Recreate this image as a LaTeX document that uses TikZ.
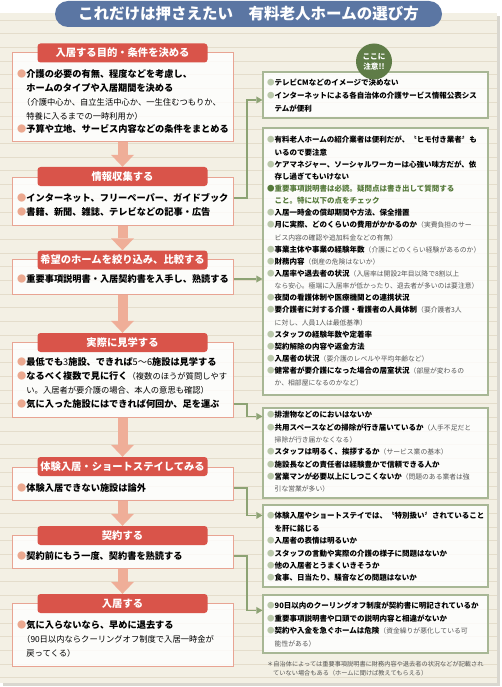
\documentclass[tikz,border=0pt]{standalone}
\usepackage{fontspec}
\setmainfont{Noto Sans CJK JP}
\usetikzlibrary{arrows.meta,calc}
\definecolor{hdrcol}{HTML}{D9544A}
\definecolor{lbord}{HTML}{E8A493}
\definecolor{larrow}{HTML}{EFAE98}
\definecolor{lbul}{HTML}{EBA88F}
\definecolor{rbord}{HTML}{A8B795}
\definecolor{rbul}{HTML}{BAC8AA}
\definecolor{conncol}{HTML}{8DA374}
\definecolor{gtext}{HTML}{55793A}
\definecolor{gcirc}{HTML}{5F7C47}
\definecolor{titlecol}{HTML}{5B76A3}
\definecolor{panelcol}{HTML}{F3F0E4}
\definecolor{rulecol}{HTML}{E4DDCB}
\definecolor{shadowcol}{HTML}{D9D7CF}
\definecolor{subgray}{HTML}{555555}
\newcommand\bulL{\textcolor{lbul}{●}}
\newcommand\bulR{\textcolor{rbul}{●}}
\newcommand\subL[1]{{\mdseries\fontsize{8.3}{10}\selectfont #1}}
\newcommand\subR[1]{{\mdseries\color{subgray}\fontsize{6.8}{8}\selectfont #1}}
\begin{document}
\begin{tikzpicture}[x=1pt,y=-1pt,
  ltxt/.style={anchor=west,inner sep=0pt,font=\bfseries\fontsize{9.2}{11}\selectfont,text height=8.1pt,text depth=1.1pt},
  rtxt/.style={anchor=west,inner sep=0pt,font=\bfseries\fontsize{7.5}{9}\selectfont,text height=6.6pt,text depth=0.9pt},
  ftxt/.style={anchor=west,inner sep=0pt,font=\fontsize{6.2}{7}\selectfont,text=subgray,text height=5.5pt,text depth=0.7pt},
  lbox/.style={draw=lbord,line width=1pt,fill=white,fill opacity=0.82,minimum width=221pt,inner sep=0pt},
  rbox/.style={draw=rbord,line width=1.2pt,fill=white,fill opacity=0.82,minimum width=225pt,inner sep=0pt},
  hdr/.style={fill=hdrcol,rounded corners=3pt,minimum width=170pt,minimum height=19pt,inner sep=0pt,text=white,font=\bfseries\fontsize{10.3}{12}\selectfont,text height=9pt,text depth=1.3pt},
  bigarr/.style={draw=larrow,line width=10pt,-{Triangle[width=23pt,length=12pt,line width=0pt]}},
  conn/.style={draw=conncol,line width=1.8pt,-{Triangle[width=7pt,length=6pt,line width=0pt]}}
]
\useasboundingbox (0,0) rectangle (501,687);
% panel
\fill[shadowcol] (3,16) rectangle (500,686);
\fill[panelcol] (0,13) rectangle (497,683);
\foreach \yy in {20,33.7,...,680} \draw[rulecol,line width=0.6pt] (0,\yy) -- (497,\yy);

% left frames
\node[lbox,minimum height=89pt] (b1) at (122.5,97.5) {};
\node[lbox,minimum height=48pt] (b2) at (122.5,201) {};
\node[lbox,minimum height=35pt] (b3) at (122.5,276.5) {};
\node[lbox,minimum height=75pt] (b4) at (122.5,379.5) {};
\node[lbox,minimum height=33pt] (b5) at (122.5,483.5) {};
\node[lbox,minimum height=33pt] (b6) at (122.5,551.5) {};
\node[lbox,minimum height=63pt] (b7) at (122.5,634.5) {};

% headers
\node[hdr] (h1) at (122.5,53) {入居する目的・条件を決める};
\node[hdr] (h2) at (122.5,176.5) {情報収集する};
\node[hdr] (h3) at (122.5,260) {希望のホームを絞り込み、比較する};
\node[hdr] (h4) at (122.5,342.5) {実際に見学する};
\node[hdr] (h5) at (122.5,466.5) {体験入居・ショートステイしてみる};
\node[hdr] (h6) at (122.5,535.5) {契約する};
\node[hdr] (h7) at (122.5,603.5) {入居する};

% big arrows
\draw[bigarr] (b1.south) -- (h2.north);
\draw[bigarr] (b2.south) -- (h3.north);
\draw[bigarr] (b3.south) -- (h4.north);
\draw[bigarr] (b4.south) -- (h5.north);
\draw[bigarr] (b5.south) -- (h6.north);
\draw[bigarr] (b6.south) -- (h7.north);

% left texts
\node[ltxt] (l1a) at (17,74) {\bulL 介護の必要の有無、程度などを考慮し、};
\node[ltxt] (l1b) at (26.2,88) {ホームのタイプや入居期間を決める};
\node[ltxt] (l1c) at (22,102) {\subL{（介護中心か、自立生活中心か、一生住むつもりか、}};
\node[ltxt] (l1d) at (26.2,116) {\subL{特養に入るまでの一時利用か）}};
\node[ltxt] (l1e) at (17,129.5) {\bulL 予算や立地、サービス内容などの条件をまとめる};
\node[ltxt] (l2a) at (17,198) {\bulL インターネット、フリーペーパー、ガイドブック};
\node[ltxt] (l2b) at (17,212) {\bulL 書籍、新聞、雑誌、テレビなどの記事・広告};
\node[ltxt] (l3a) at (17,279) {\bulL 重要事項説明書・入居契約書を入手し、熟読する};
\node[ltxt] (l4a) at (17,362) {\bulL 最低でも{\mdseries 3}施設、できれば{\mdseries 5～6}施設は見学する};
\node[ltxt] (l4b) at (17,376) {\bulL なるべく複数で見に行く\subL{（複数のほうが質問しやす}};
\node[ltxt] (l4c) at (26.2,390) {\subL{い。入居者が要介護の場合、本人の意思も確認）}};
\node[ltxt] (l4d) at (17,404) {\bulL 気に入った施設にはできれば何回か、足を運ぶ};
\node[ltxt] (l5a) at (17,488) {\bulL 体験入居できない施設は論外};
\node[ltxt] (l6a) at (17,556) {\bulL 契約前にもう一度、契約書を熟読する};
\node[ltxt] (l7a) at (17,625) {\bulL 気に入らないなら、早めに退去する};
\node[ltxt] (l7b) at (22,639) {\subL{（90日以内ならクーリングオフ制度で入居一時金が}};
\node[ltxt] (l7c) at (26.2,653) {\subL{戻ってくる）}};

% right frames
\node[rbox,minimum height=46pt] (r1) at (375.5,95) {};
\node[rbox,minimum height=267pt] (r2) at (375.5,261.5) {};
\node[rbox,minimum height=90pt] (r3) at (375.5,453) {};
\node[rbox,minimum height=82pt] (r4) at (375.5,546) {};
\node[rbox,minimum height=58pt] (r5) at (375.5,624) {};

% right texts
\node[rtxt] (r1a) at (267,83) {\bulR テレビCMなどのイメージで決めない};
\node[rtxt] (r1b) at (267,96) {\bulR インターネットによる各自治体の介護サービス情報公表シス};
\node[rtxt] (r1c) at (274.5,109) {テムが便利};

\node[rtxt] (r2a) at (267,140) {\bulR 有料老人ホームの紹介業者は便利だが、〝ヒモ付き業者〞も};
\node[rtxt] (r2b) at (274.5,152.2) {いるので要注意};
\node[rtxt] (r2c) at (267,164.3) {\bulR ケアマネジャー、ソーシャルワーカーは心強い味方だが、依};
\node[rtxt] (r2d) at (274.5,176.5) {存し過ぎてもいけない};
\node[rtxt,text=gtext] (r2e) at (267,188.6) {●重要事項説明書は必読。疑問点は書き出して質問する};
\node[rtxt,text=gtext] (r2f) at (274.5,200.8) {こと。特に以下の点をチェック};
\node[rtxt] (r2g) at (267,212.9) {\bulR 入居一時金の償却期間や方法、保全措置};
\node[rtxt] (r2h) at (267,225.1) {\bulR 月に実際、どのくらいの費用がかかるのか\subR{（実費負担のサー}};
\node[rtxt] (r2i) at (274.5,237.2) {\subR{ビス内容の確認や追加料金などの有無）}};
\node[rtxt] (r2j) at (267,249.4) {\bulR 事業主体や事業の経験年数\subR{（介護にどのくらい経験があるのか）}};
\node[rtxt] (r2k) at (267,261.5) {\bulR 財務内容\subR{（倒産の危険はないか）}};
\node[rtxt] (r2l) at (267,273.7) {\bulR 入居率や退去者の状況\subR{（入居率は開設2年目以降で8割以上}};
\node[rtxt] (r2m) at (274.5,285.8) {\subR{なら安心。極端に入居率が低かったり、退去者が多いのは要注意）}};
\node[rtxt] (r2n) at (267,298) {\bulR 夜間の看護体制や医療機関との連携状況};
\node[rtxt] (r2o) at (267,310.1) {\bulR 要介護者に対する介護・看護者の人員体制\subR{（要介護者3人}};
\node[rtxt] (r2p) at (274.5,322.3) {\subR{に対し、人員1人は最低基準）}};
\node[rtxt] (r2q) at (267,334.4) {\bulR スタッフの経験年数や定着率};
\node[rtxt] (r2r) at (267,346.6) {\bulR 契約解除の内容や返金方法};
\node[rtxt] (r2s) at (267,358.7) {\bulR 入居者の状況\subR{（要介護のレベルや平均年齢など）}};
\node[rtxt] (r2t) at (267,370.9) {\bulR 健常者が要介護になった場合の居室状況\subR{（部屋が変わるの}};
\node[rtxt] (r2u) at (274.5,383) {\subR{か、相部屋になるのかなど）}};

\node[rtxt] (r3a) at (267,415) {\bulR 排泄物などのにおいはないか};
\node[rtxt] (r3b) at (267,427.3) {\bulR 共用スペースなどの掃除が行き届いているか\subR{（人手不足だと}};
\node[rtxt] (r3c) at (274.5,439.6) {\subR{掃除が行き届かなくなる）}};
\node[rtxt] (r3d) at (267,451.9) {\bulR スタッフは明るく、挨拶するか\subR{（サービス業の基本）}};
\node[rtxt] (r3e) at (267,464.2) {\bulR 施設長などの責任者は経験豊かで信頼できる人か};
\node[rtxt] (r3f) at (267,476.5) {\bulR 営業マンが必要以上にしつこくないか\subR{（問題のある業者は強}};
\node[rtxt] (r3g) at (274.5,488.8) {\subR{引な営業が多い）}};

\node[rtxt] (r4a) at (267,516) {\bulR 体験入居やショートステイでは、〝特別扱い〞されていること};
\node[rtxt] (r4b) at (274.5,528.4) {を肝に銘じる};
\node[rtxt] (r4c) at (267,540.8) {\bulR 入居者の表情は明るいか};
\node[rtxt] (r4d) at (267,553.2) {\bulR スタッフの言動や実際の介護の様子に問題はないか};
\node[rtxt] (r4e) at (267,565.6) {\bulR 他の入居者とうまくいきそうか};
\node[rtxt] (r4f) at (267,578) {\bulR 食事、日当たり、騒音などの問題はないか};

\node[rtxt] (r5a) at (267,606) {\bulR 90日以内のクーリングオフ制度が契約書に明記されているか};
\node[rtxt] (r5b) at (267,618.5) {\bulR 重要事項説明書や口頭での説明内容と相違がないか};
\node[rtxt] (r5c) at (267,631) {\bulR 契約や入金を急ぐホームは危険\subR{（資金繰りが悪化している可}};
\node[rtxt] (r5d) at (274.5,643.5) {\subR{能性がある）}};

\node[ftxt] (fn1) at (267,664) {＊自治体によっては重要事項説明書に財務内容や退去者の状況などが記載され};
\node[ftxt] (fn2) at (273,673) {ていない場合もある（ホームに聞けば教えてもらえる）};

% connectors
\coordinate (kx) at (247,0);
\coordinate (r1in) at ([yshift=-5pt]r1.west);
\coordinate (r3in) at ([yshift=-9pt]r3.north west);
\coordinate (r4in) at ([yshift=-11pt]r4.north west);
\coordinate (r5in) at ([yshift=-16pt]r5.north west);
\draw[conn] (b2.east |- l2a) -- (l2a -| kx) -- (kx |- r1in) -- (r1in);
\draw[conn] (b3.east |- l3a) -- (r2.west |- l3a);
\draw[conn] (b4.east |- l4d) -- (l4d -| kx) -- (kx |- r3in) -- (r3in);
\draw[conn] (b5.east |- l5a) -- (l5a -| kx) -- (kx |- r4in) -- (r4in);
\draw[conn] (b6.east |- l6a) -- (l6a -| kx) -- (kx |- r5in) -- (r5in);

% warning badge
\node[circle,fill=gcirc,minimum size=36pt,inner sep=0pt,text=white,align=center,font=\bfseries\fontsize{7.6}{10}\selectfont] (warn) at (374,61.5) {ここに\\注意!!};

% title
\node[fill=titlecol,rounded corners=13pt,minimum width=387pt,minimum height=26pt,inner sep=0pt,text=white,font=\bfseries\fontsize{15.5}{17}\selectfont,text height=13.6pt,text depth=1.9pt] (title) at (248.5,14) {これだけは押さえたい　有料老人ホームの選び方};
\end{tikzpicture}
\end{document}
